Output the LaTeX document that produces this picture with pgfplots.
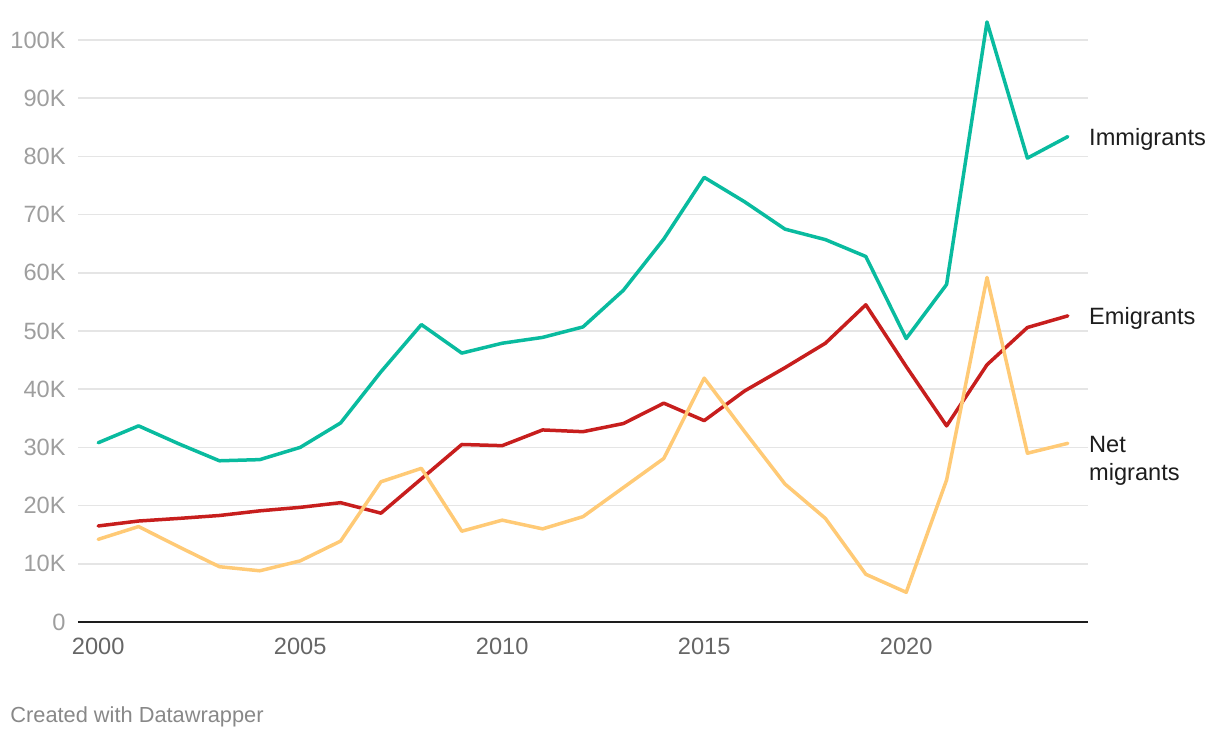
\documentclass[border=0pt]{standalone}
\usepackage{pgfplots}
\pgfplotsset{compat=1.18}
\usepackage{fontspec}
\setmainfont{Liberation Sans}
\definecolor{immc}{HTML}{09BB9F}
\definecolor{emic}{HTML}{C71E1D}
\definecolor{netc}{HTML}{FFCA76}
\definecolor{gridc}{HTML}{E5E5E5}
\definecolor{ytickc}{HTML}{9E9E9E}
\definecolor{xtickc}{HTML}{666666}
\definecolor{footc}{HTML}{888888}
\definecolor{labc}{HTML}{1D1D1D}
\begin{document}
\begin{tikzpicture}
\path[use as bounding box] (-39pt,-58pt) rectangle (571pt,311pt);
\begin{axis}[
  scale only axis, width=505pt, height=291pt,
  xmin=1999.5, xmax=2024.5, ymin=0, ymax=100,
  axis line style={draw=none},
  major tick length=0pt,
  xtick={2000,2005,2010,2015,2020},
  xticklabels={2000,2005,2010,2015,2020},
  ytick={0,10,20,30,40,50,60,70,80,90,100},
  yticklabels={0,10K,20K,30K,40K,50K,60K,70K,80K,90K,100K},
  ymajorgrids, grid style={color=gridc, line width=0.8pt},
  xticklabel style={anchor=north, inner sep=0pt, yshift=-8pt, text=xtickc, font=\fontsize{11.8}{14}\selectfont},
  yticklabel style={anchor=east, inner sep=0pt, xshift=-6pt, text=ytickc, font=\fontsize{11.8}{14}\selectfont},
  clip=false,
  every axis plot/.append style={line width=1.75pt, line join=round, line cap=round, mark=none},
]
\draw[color=labc, line width=1pt] (rel axis cs:0,0) -- (rel axis cs:1,0);
\addplot[color=immc] coordinates {
(2000,30.8) (2001,33.7) (2002,30.6) (2003,27.7) (2004,27.9) (2005,30.0)
(2006,34.2) (2007,43.0) (2008,51.1) (2009,46.2) (2010,47.9) (2011,48.9)
(2012,50.7) (2013,57.0) (2014,65.8) (2015,76.4) (2016,72.2) (2017,67.5)
(2018,65.7) (2019,62.8) (2020,48.7) (2021,58.0) (2022,103.1) (2023,79.7)
(2024,83.4)};
\addplot[color=emic] coordinates {
(2000,16.5) (2001,17.35) (2002,17.8) (2003,18.3) (2004,19.1) (2005,19.7)
(2006,20.5) (2007,18.7) (2008,24.6) (2009,30.5) (2010,30.3) (2011,33.0)
(2012,32.7) (2013,34.1) (2014,37.6) (2015,34.6) (2016,39.7) (2017,43.7)
(2018,47.9) (2019,54.5) (2020,43.9) (2021,33.7) (2022,44.2) (2023,50.6)
(2024,52.6)};
\addplot[color=netc] coordinates {
(2000,14.2) (2001,16.4) (2002,12.9) (2003,9.5) (2004,8.8) (2005,10.5)
(2006,13.9) (2007,24.1) (2008,26.4) (2009,15.6) (2010,17.5) (2011,16.0)
(2012,18.1) (2013,23.1) (2014,28.1) (2015,41.9) (2016,32.7) (2017,23.7)
(2018,17.8) (2019,8.2) (2020,5.1) (2021,24.4) (2022,59.2) (2023,29.0)
(2024,30.7)};
\node[anchor=base west, inner sep=0pt, text=labc, font=\fontsize{11.8}{14}\selectfont, xshift=10.5pt, yshift=-4.5pt] at (axis cs:2024,83.4) {Immigrants};
\node[anchor=base west, inner sep=0pt, text=labc, font=\fontsize{11.8}{14}\selectfont, xshift=10.5pt, yshift=-4.5pt] at (axis cs:2024,52.6) {Emigrants};
\node[anchor=base west, inner sep=0pt, text=labc, font=\fontsize{11.8}{14}\selectfont, xshift=10.5pt, yshift=-4.5pt] at (axis cs:2024,30.7) {Net};
\node[anchor=base west, inner sep=0pt, text=labc, font=\fontsize{11.8}{14}\selectfont, xshift=10.5pt, yshift=-18.5pt] at (axis cs:2024,30.7) {migrants};
\end{axis}
\node[anchor=base west, inner sep=0pt, text=footc, font=\fontsize{10.9}{13}\selectfont] at (-34pt,-50pt) {Created with Datawrapper};
\end{tikzpicture}
\end{document}
